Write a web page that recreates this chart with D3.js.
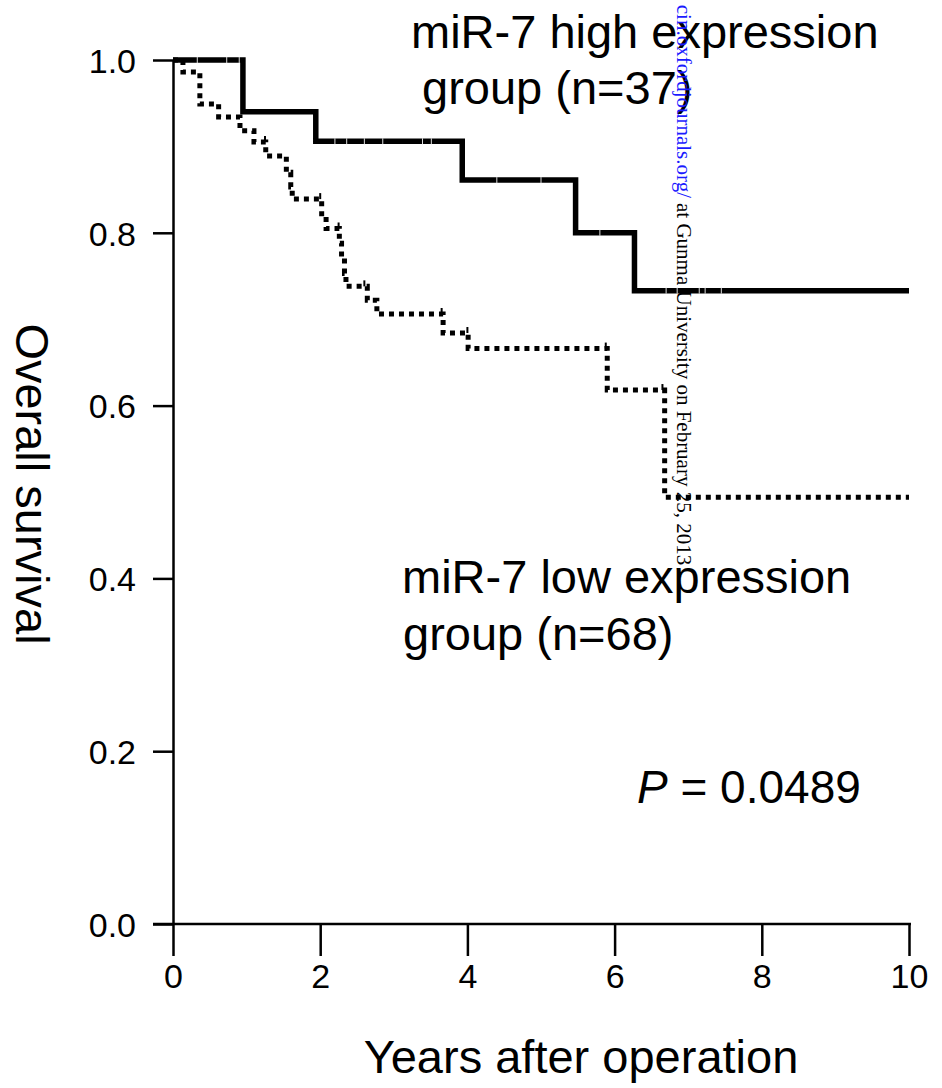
<!DOCTYPE html>
<html>
<head>
<meta charset="utf-8">
<script src="https://cdn.jsdelivr.net/npm/d3@7"></script>
<style>
    body { margin: 0; background: #fff; }
    svg { display: block; }
    .label { font-family: "Liberation Sans", Arial, sans-serif; fill: #000; }
</style>
</head>
<body>
<div class="chart"></div>
<script>
// high expression group (solid line)
var highTimes = [0, 0.95, 1.94, 3.93, 5.47, 6.27];
var highSurv = [1.0, 0.94, 0.906, 0.861, 0.80, 0.733];
var highCensored = [0.33, 0.73, 0.9, 2.2, 2.36, 2.6, 2.85, 3.39, 3.51, 4.4, 5.0, 5.8, 6.7, 6.85, 7.15, 7.23, 7.45];

// low expression group (dotted line)
var lowTimes = [0, 0.135, 0.365, 0.62, 0.91, 1.10, 1.26, 1.54, 1.60, 1.62, 2.02, 2.08, 2.26, 2.29, 2.33, 2.35, 2.64, 2.77, 3.67, 4.01, 5.90, 6.68];
var lowSurv = [1.0, 0.986, 0.949, 0.934, 0.918, 0.905, 0.889, 0.870, 0.853, 0.839, 0.819, 0.805, 0.788, 0.771, 0.753, 0.738, 0.722, 0.706, 0.684, 0.666, 0.618, 0.494];
var lowCensored = [1.25, 2.0, 2.25, 2.6, 3.65, 4.0, 5.88, 6.65];

var endTime = 10;
var xTicks = [0, 2, 4, 6, 8, 10];
var yTicks = [0, 0.2, 0.4, 0.6, 0.8, 1.0];

(function () {
    var options = {
        width: 942,
        height: 1088,
        x0: 173,
        x1: 909,
        y0: 924,
        y1: 60
    };

    var svg = d3.select('.chart')
        .append('svg')
        .attr('width', options.width)
        .attr('height', options.height);

    var x = d3.scaleLinear().domain([0, 10]).range([options.x0, options.x1]);
    var y = d3.scaleLinear().domain([0, 1]).range([options.y0, options.y1]);

    var toPoints = function (times, surv) {
        var pts = times.map(function (t, i) { return [t, surv[i]]; });
        pts.push([endTime, surv[surv.length - 1]]);
        return pts;
    };

    var survAt = function (times, surv, t) {
        var s = surv[0];
        times.forEach(function (tt, i) { if (tt <= t) s = surv[i]; });
        return s;
    };

    var line = d3.line()
        .x(function (d) { return x(d[0]); })
        .y(function (d) { return y(d[1]); })
        .curve(d3.curveStepAfter);

    // axes
    var xAxis = svg.append('g')
        .attr('transform', 'translate(0,' + options.y0 + ')')
        .call(d3.axisBottom(x).tickValues(xTicks).tickSize(32).tickSizeOuter(0).tickPadding(8).tickFormat(d3.format('d')));
    xAxis.select('.domain').attr('d', 'M' + (options.x0 - 20) + ',0H' + (options.x1 + 2));
    xAxis.selectAll('line').attr('stroke-width', 2.5);
    xAxis.select('.domain').attr('stroke-width', 2.5);
    xAxis.selectAll('text')
        .attr('font-size', 34)
        .attr('font-family', '"Liberation Sans", Arial, sans-serif');

    var yAxis = svg.append('g')
        .attr('transform', 'translate(' + options.x0 + ',0)')
        .call(d3.axisLeft(y).tickValues(yTicks).tickSize(20).tickSizeOuter(0).tickPadding(17).tickFormat(d3.format('.1f')));
    yAxis.selectAll('line').attr('stroke-width', 2.5);
    yAxis.select('.domain').attr('stroke-width', 2.5);
    yAxis.selectAll('text')
        .attr('font-size', 34)
        .attr('dy', '0.36em')
        .attr('font-family', '"Liberation Sans", Arial, sans-serif');

    // curves
    svg.append('path')
        .datum(toPoints(lowTimes, lowSurv))
        .attr('d', line)
        .attr('fill', 'none')
        .attr('stroke', '#000')
        .attr('stroke-width', 5)
        .attr('stroke-dasharray', '5,5');

    svg.append('path')
        .datum(toPoints(highTimes, highSurv))
        .attr('d', line)
        .attr('fill', 'none')
        .attr('stroke', '#000')
        .attr('stroke-width', 5.5)
        .attr('stroke-linejoin', 'miter');

    svg.selectAll('.censor-high')
        .data(highCensored)
        .enter()
        .append('line')
        .attr('x1', function (d) { return x(d); })
        .attr('x2', function (d) { return x(d); })
        .attr('y1', function (d) { return y(survAt(highTimes, highSurv, d)) - 3; })
        .attr('y2', function (d) { return y(survAt(highTimes, highSurv, d)) + 3; })
        .attr('stroke', '#ddd')
        .attr('stroke-width', 1);

    svg.selectAll('.censor-low')
        .data(lowCensored)
        .enter()
        .append('line')
        .attr('x1', function (d) { return x(d); })
        .attr('x2', function (d) { return x(d); })
        .attr('y1', function (d) { return y(survAt(lowTimes, lowSurv, d)) - 6; })
        .attr('y2', function (d) { return y(survAt(lowTimes, lowSurv, d)); })
        .attr('stroke', '#000')
        .attr('stroke-width', 2);

    // group labels
    var addText = function (tx, ty, str, size) {
        return svg.append('text')
            .classed('label', true)
            .attr('x', tx)
            .attr('y', ty)
            .attr('font-size', size)
            .text(str);
    };

    addText(411, 48, 'miR-7 high expression', 47);
    addText(422, 104, 'group (n=37)', 47);
    addText(402, 593, 'miR-7 low expression', 47);
    addText(403, 650, 'group (n=68)', 47);

    var p = svg.append('text')
        .classed('label', true)
        .attr('x', 637)
        .attr('y', 803)
        .attr('font-size', 46);
    p.append('tspan').attr('font-style', 'italic').text('P');
    p.append('tspan').text(' = 0.0489');

    // axis titles
    svg.append('text')
        .classed('label', true)
        .attr('transform', 'translate(16,484) rotate(90)')
        .attr('text-anchor', 'middle')
        .attr('font-size', 47)
        .text('Overall survival');

    svg.append('text')
        .classed('label', true)
        .attr('x', 581)
        .attr('y', 1073)
        .attr('text-anchor', 'middle')
        .attr('font-size', 47)
        .text('Years after operation');

    // download stamp (top of it runs off the page in the original)
    svg.append('text')
        .attr('transform', 'translate(677,198) rotate(90)')
        .attr('text-anchor', 'end')
        .attr('font-family', '"Liberation Serif", "Times New Roman", serif')
        .attr('font-size', 21)
        .attr('fill', '#1a1aff')
        .text('cin.oxfordjournals.org/');

    svg.append('text')
        .attr('transform', 'translate(677,203) rotate(90)')
        .attr('font-family', '"Liberation Serif", "Times New Roman", serif')
        .attr('font-size', 21)
        .attr('fill', '#000')
        .text('at Gunma University on February 25, 2013');
})();
</script>
</body>
</html>
